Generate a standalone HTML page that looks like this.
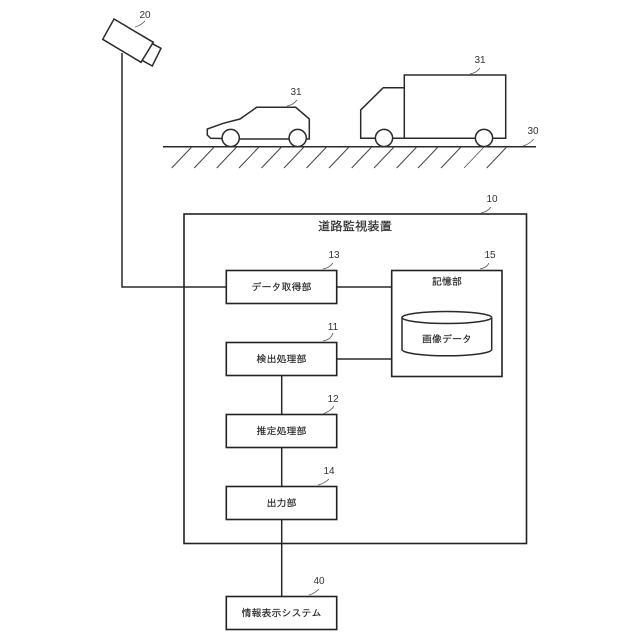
<!DOCTYPE html>
<html lang="ja">
<head>
<meta charset="utf-8">
<style>
html,body{margin:0;padding:0;background:#fff;width:640px;height:640px;overflow:hidden}
svg{display:block}
text{font-family:"IPAGothic","Liberation Sans","Noto Sans CJK JP",sans-serif;fill:#222;stroke:#222;stroke-width:.15;text-anchor:middle}
.n{font-family:"Liberation Sans",sans-serif;font-size:10px;stroke:none;fill:#333}
.t{font-size:10px}
.s{fill:none;stroke:#2a2a2a;stroke-width:1.5}
.b{fill:#fff;stroke:#222;stroke-width:1.6}
.h{stroke:#444;stroke-width:1;fill:none}
.th{stroke:#444;stroke-width:.7;fill:none}
.l{fill:none;stroke:#555;stroke-width:.8}
</style>
</head>
<body>
<svg width="640" height="640" viewBox="0 0 640 640" xmlns="http://www.w3.org/2000/svg">
<!-- connectors -->
<path class="s" d="M122 53V287H226"/>
<path class="s" d="M336.7 287H391.7M336.7 359H391.7M281.7 375V414M281.7 447V486M281.7 519V596"/>

<!-- camera -->
<path class="s" d="M114 19L153.3 42.3L141 62.3L102.7 39.3Z"/>
<path class="s" d="M151.7 43.3L161 48.3L152.3 66L142.7 60.7"/>

<!-- car -->
<path class="s" d="M222 138.5L210.7 138.3L207.3 135V129L223.3 123.3L240 119L256.7 107.3H295.7L309.3 119V139H307M239 139H289"/>
<circle class="s" cx="230.7" cy="138" r="8.6"/>
<circle class="s" cx="297.7" cy="138" r="8.6"/>

<!-- truck -->
<path class="s" d="M404.3 138.3V75H505.7V138.3H493M475 138.3H393M404.3 87.7H383.3L360.7 110V138.3H375"/>
<circle class="s" cx="384" cy="138" r="8.6"/>
<circle class="s" cx="484" cy="138" r="8.6"/>

<!-- ground -->
<path class="s" d="M163 146.7H536"/>
<path class="h" d="M191.7 147l-20 21M214.2 147l-20 21M236.7 147l-20 21M259 147l-20 21M281.5 147l-20 21M304 147l-20 21M326.5 147l-20 21M349 147l-20 21M371.7 147l-20 21M394 147l-20 21M416.7 147l-20 21M438 147l-20 21M461 147l-20 21M506.7 147l-20 21"/>
<path class="th" d="M484 147l-20 21"/>

<!-- main box -->
<rect class="b" style="fill:none" x="184" y="214" width="342.5" height="329.5"/>
<text x="355" y="230.5" style="font-size:12.4px">道路監視装置</text>

<!-- blocks -->
<rect class="b" x="226.3" y="270.5" width="110.4" height="33"/>
<text class="t" x="281.5" y="290.5">データ取得部</text>
<rect class="b" x="226.3" y="342.5" width="110.4" height="33"/>
<text class="t" x="281.5" y="362.5">検出処理部</text>
<rect class="b" x="226.3" y="414.5" width="110.4" height="33"/>
<text class="t" x="281.5" y="434.5">推定処理部</text>
<rect class="b" x="226.3" y="486.5" width="110.4" height="33"/>
<text class="t" x="281.5" y="506.5">出力部</text>
<rect class="b" x="226.3" y="596.5" width="110.4" height="33"/>
<text class="t" x="281.5" y="616.5">情報表示システム</text>

<!-- storage -->
<rect class="b" x="391.7" y="270.5" width="110.3" height="106"/>
<text class="t" x="447" y="285">記憶部</text>
<path class="s" d="M402 317.5V349.5C402 353 422 355.8 446.8 355.8S491.7 353 491.7 349.5V317.5"/>
<ellipse class="s" cx="446.8" cy="317.5" rx="44.8" ry="6"/>
<text class="t" x="447" y="342.5">画像データ</text>

<!-- reference numbers -->
<text class="n" x="145" y="18">20</text>
<path class="l" d="M135 27C139 26 142 24 145 21"/>
<text class="n" x="296" y="95">31</text>
<path class="l" d="M287 106C291 105 294 104 297 100"/>
<text class="n" x="480" y="63">31</text>
<path class="l" d="M470 74C474 73 477 72 480 68"/>
<text class="n" x="533" y="134">30</text>
<path class="l" d="M523 146C527 145 530 143 534 139"/>
<text class="n" x="492" y="202">10</text>
<path class="l" d="M481 213C485 212 488 211 491 207"/>
<text class="n" x="334" y="258">13</text>
<path class="l" d="M323 269C327 268 330 267 333 263"/>
<text class="n" x="490" y="258">15</text>
<path class="l" d="M480 269C484 268 487 267 489 263"/>
<text class="n" x="333" y="330">11</text>
<path class="l" d="M323 341C327 340 331 339 333 333"/>
<text class="n" x="333" y="402">12</text>
<path class="l" d="M323 414C327 412 331 411 334 406"/>
<text class="n" x="329" y="474">14</text>
<path class="l" d="M318 485C322 484 326 482 329 479"/>
<text class="n" x="319" y="584">40</text>
<path class="l" d="M309 595C313 594 316 592 319 589"/>
</svg>
</body>
</html>
